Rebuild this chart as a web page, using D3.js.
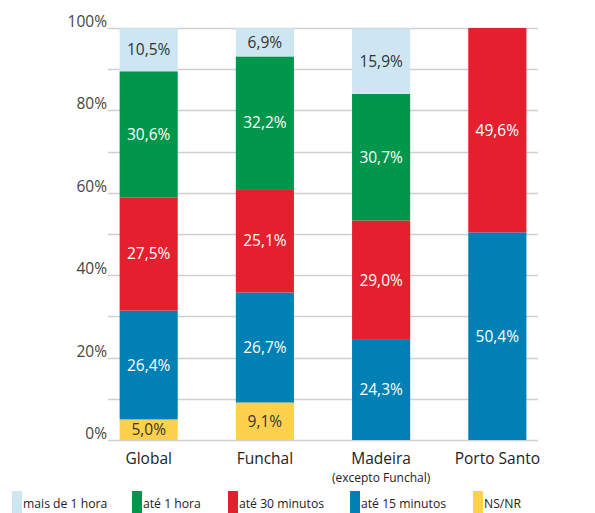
<!DOCTYPE html>
<html>
<head>
<meta charset="utf-8">
<script src="https://cdn.jsdelivr.net/npm/d3@7"></script>
<style>
  body { margin: 0; background: #fff; }
  svg text { font-family: "Open Sans", "Liberation Sans", sans-serif; }
</style>
</head>
<body>
<div id="chart"></div>
<script>
/* data */
const categories = ["Global", "Funchal", "Madeira", "Porto Santo"];
const subLabels  = ["", "", "(excepto Funchal)", ""];
const seriesNames = ["NS/NR", "até 15 minutos", "até 30 minutos", "até 1 hora", "mais de 1 hora"];
const nsnr    = [5.0, 9.1, 0, 0];
const ate15   = [26.4, 26.7, 24.3, 50.4];
const ate30   = [27.5, 25.1, 29.0, 49.6];
const ate1h   = [30.6, 32.2, 30.7, 0];
const mais1h  = [10.5, 6.9, 15.9, 0];
const yTicks  = [0, 20, 40, 60, 80, 100];
const legendOrder = ["mais de 1 hora", "até 1 hora", "até 30 minutos", "até 15 minutos", "NS/NR"];

const colors = {
  "NS/NR": "#fdd04e",
  "até 15 minutos": "#0080b4",
  "até 30 minutos": "#e4202f",
  "até 1 hora": "#00964b",
  "mais de 1 hora": "#cde6f2"
};
const darkText = { "NS/NR": true, "mais de 1 hora": true };

const W = 595, H = 513;
const margin = { top: 28, right: 57, bottom: 73, left: 108 };
const w = W - margin.left - margin.right;
const h = H - margin.top - margin.bottom;

const rows = categories.map((c, i) => ({
  cat: c,
  "NS/NR": nsnr[i], "até 15 minutos": ate15[i], "até 30 minutos": ate30[i],
  "até 1 hora": ate1h[i], "mais de 1 hora": mais1h[i]
}));
const stacked = d3.stack().keys(seriesNames)(rows);

const x = d3.scaleBand().domain(categories).range([0, w]).paddingInner(0.5).paddingOuter(0.1);
const y = d3.scaleLinear().domain([0, 100]).range([h, 0]);

const svg = d3.select("#chart").append("svg").attr("width", W).attr("height", H);
const g = svg.append("g").attr("transform", `translate(${margin.left},${margin.top})`);

// gridlines every 10%
g.selectAll(".grid").data(d3.range(0, 101, 10)).join("line")
  .attr("x1", 0).attr("x2", w)
  .attr("y1", d => Math.round(y(d)) + 0.5).attr("y2", d => Math.round(y(d)) + 0.5)
  .attr("stroke", "#cfcfcf").attr("stroke-width", 1.5);

// y axis labels
const yAxis = g.append("g").call(d3.axisLeft(y).tickValues(yTicks).tickSize(0).tickPadding(1).tickFormat(d => d + "%"));
yAxis.select(".domain").remove();
yAxis.selectAll("text").attr("fill", "#444").attr("font-size", "15.5px").attr("dy", "-0.1em");

// bars
const layer = g.selectAll(".layer").data(stacked).join("g").attr("fill", d => colors[d.key]);
layer.selectAll("rect").data(d => d.map(p => ({ key: d.key, p }))).join("rect")
  .attr("x", d => x(d.p.data.cat))
  .attr("width", x.bandwidth())
  .attr("y", d => y(d.p[1]))
  .attr("height", d => y(d.p[0]) - y(d.p[1]));

// value labels
const fmt = v => v.toFixed(1).replace(".", ",") + "%";
layer.selectAll("text").data(d => d.map(p => ({ key: d.key, p })).filter(e => e.p[1] - e.p[0] > 0)).join("text")
  .attr("x", d => x(d.p.data.cat) + x.bandwidth() / 2)
  .attr("y", d => (y(d.p[0]) + y(d.p[1])) / 2 + 5.5)
  .attr("text-anchor", "middle")
  .attr("font-size", "15.5px")
  .attr("fill", d => darkText[d.key] ? "#333" : "#fff")
  .text(d => fmt(d.p[1] - d.p[0]));

// category labels
g.selectAll(".cat").data(categories).join("text")
  .attr("x", d => x(d) + x.bandwidth() / 2)
  .attr("y", h + 24)
  .attr("text-anchor", "middle").attr("font-size", "15.5px").attr("fill", "#222")
  .text(d => d);
g.selectAll(".sub").data(categories).join("text")
  .attr("x", d => x(d) + x.bandwidth() / 2)
  .attr("y", h + 42)
  .attr("text-anchor", "middle").attr("font-size", "12px").attr("fill", "#222")
  .text((d, i) => subLabels[i]);

// legend
const legendX = [12, 132, 228, 350, 473];
const lg = svg.append("g");
legendOrder.forEach((k, i) => {
  lg.append("rect").attr("x", legendX[i]).attr("y", 491).attr("width", 10).attr("height", 22).attr("fill", colors[k]);
  lg.append("text").attr("x", legendX[i] + 11).attr("y", 508)
    .attr("font-size", "12.2px").attr("fill", "#222").text(k);
});
</script>
</body>
</html>
